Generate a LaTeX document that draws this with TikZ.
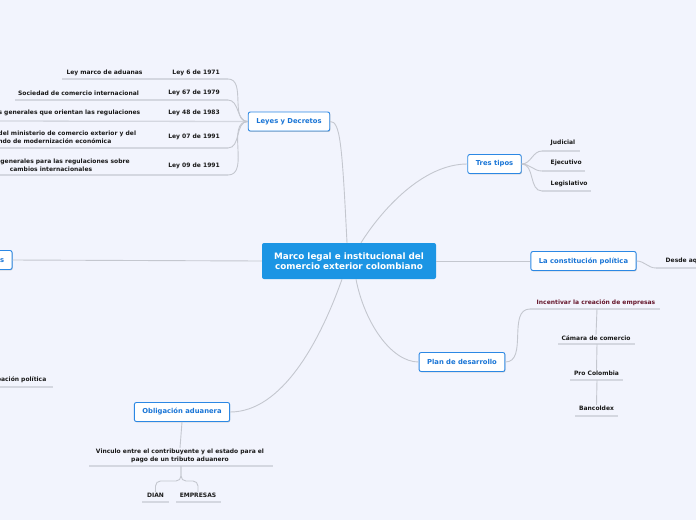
\documentclass[tikz,border=0pt]{standalone}
\usepackage{fontspec}
\setmainfont{DejaVu Sans}
\usetikzlibrary{shadows}
\definecolor{bgcol}{HTML}{F2F4FD}
\definecolor{rootblue}{HTML}{1C95E4}
\definecolor{topicblue}{HTML}{2C88E4}
\definecolor{topictext}{HTML}{1975D6}
\definecolor{linkgray}{HTML}{C4C7CF}
\definecolor{ulgray}{HTML}{D4D7E0}
\definecolor{wine}{HTML}{66172C}
\definecolor{leaftext}{HTML}{1A1A1A}
\tikzset{
  root/.style={fill=rootblue,rounded corners=2pt,text=white,align=center,
    font=\bfseries\fontsize{8.8}{10.5}\selectfont,minimum width=174pt,minimum height=36pt},
  topic/.style={draw=topicblue,fill=white,line width=0.9pt,rounded corners=2pt,text=topictext,
    font=\bfseries\fontsize{6.8}{8}\selectfont,minimum height=19pt,inner xsep=8pt,
    drop shadow={shadow xshift=0.6pt,shadow yshift=-0.9pt,fill=black!45,opacity=0.45}},
  leaf/.style={text=leaftext,font=\bfseries\fontsize{6}{7.8}\selectfont,align=center,inner sep=0.5pt},
  link/.style={draw=linkgray,line width=0.9pt},
  uline/.style={draw=ulgray,line width=1.3pt},
}
\begin{document}
\begin{tikzpicture}[x=1pt,y=-1pt]
\fill[bgcol] (0,0) rectangle (696,520);
\clip (0,0) rectangle (696,520);
% main topics
\node[root] (root) at (349,261) {Marco legal e institucional del\\comercio exterior colombiano};
\node[topic] (leyes) at (289,121.5) {Leyes y Decretos};
\node[topic] (tres) at (494.5,164) {Tres tipos};
\node[topic] (const) at (583.5,261) {La constitución política};
\node[topic] (plan) at (462,362) {Plan de desarrollo};
\node[topic] (oblig) at (182,412) {Obligación aduanera};
\node[topic,anchor=east] (instit) at (12.5,260) {Instituciones};
\draw[link] (leyes.east) .. controls +(10,0) and +(-5,-100) .. ([xshift=-2pt]root.north);
\draw[link] ([xshift=12pt]root.north) .. controls +(20,-32) and +(-45,0) .. (tres.west);
\draw[link] (root.east) -- (const.west);
\draw[link] ([xshift=7pt]root.south) .. controls +(8,42) and +(-28,0) .. (plan.west);
\draw[link] ([xshift=-7pt]root.south) .. controls +(-22,62) and +(52,0) .. (oblig.east);
\draw[link] (root.west) -- (instit.east);
% leyes y decretos
\coordinate (j71) at (228,79); \coordinate (j79) at (228,100);
\coordinate (j91a) at (228,148); \coordinate (j91b) at (228,175);
\draw[uline] (62,79) -- (j71);
\draw[uline] (15,100) -- (j79);
\draw[uline] (-5,121) -- (leyes.west);
\draw[uline] (-5,148) -- (j91a);
\draw[uline] (-5,175) -- (j91b);
\foreach \j in {j71,j79,j91a,j91b} \draw[link] (\j) to[out=0,in=180] (leyes.west);
\node[leaf,anchor=east] (l71) at (220.5,72.5) {Ley 6 de 1971};
\node[leaf,anchor=east] (l79) at (220.5,93) {Ley 67 de 1979};
\node[leaf,anchor=east] (l83) at (220.5,113) {Ley 48 de 1983};
\node[leaf,anchor=east] (l91a) at (220.5,137) {Ley 07 de 1991};
\node[leaf,anchor=east] (l91b) at (220.5,166) {Ley 09 de 1991};
\node[leaf] (g71) at (104.5,72.5) {Ley marco de aduanas};
\node[leaf] (g79) at (78.5,93) {Sociedad de comercio internacional};
\node[leaf,anchor=east] (g83) at (141,113) {Normas generales que orientan las regulaciones};
\node[leaf] (g91a) at (51.5,137) {Creación del ministerio de comercio exterior y del\\fondo de modernización económica};
\node[leaf] (g91b) at (51,165) {Normas generales para las regulaciones sobre\\cambios internacionales};
% participacion
\node[leaf,anchor=east] (part) at (47,380) {Participación política};
\draw[uline] (-5,387) -- (53,387);
% tres tipos
\coordinate (t1) at (542,151); \coordinate (t2) at (542,171); \coordinate (t3) at (542,191);
\draw[uline] (t1) -- (580,151);
\draw[uline] (t2) -- (585,171);
\draw[uline] (t3) -- (591,191);
\foreach \t in {t1,t2,t3} \draw[link] (tres.east) to[out=0,in=180] (\t);
\node[leaf,anchor=west] (jud) at (550,143) {Judicial};
\node[leaf,anchor=west] (eje) at (550,163) {Ejecutivo};
\node[leaf,anchor=west] (leg) at (550,184) {Legislativo};
% constitucion
\coordinate (cd) at (656,268);
\draw[uline] (cd) -- (700,268);
\draw[link] (const.east) to[out=0,in=180] (cd);
\node[leaf,anchor=west] (desde) at (665,261) {Desde aquí};
% plan de desarrollo
\coordinate (pi) at (530,309);
\draw[uline] (pi) -- (660,309);
\draw[link] (plan.east) to[out=0,in=180] (pi);
\node[leaf,text=wine] (incent) at (596,303) {Incentivar la creación de empresas};
\node[leaf] (camara) at (596,338) {Cámara de comercio};
\node[leaf] (procol) at (596.5,373) {Pro Colombia};
\node[leaf] (banco) at (596.5,408) {Bancoldex};
\coordinate (ui) at (597,309); \coordinate (uc) at (597,344); \coordinate (up) at (597,380);
\draw[uline] (558,344) -- (635,344);
\draw[uline] (570,380) -- (623,380);
\draw[uline] (575,416) -- (618,416);
\draw[link] (ui) -- (camara.north);
\draw[link] (uc) -- (procol.north);
\draw[link] (up) -- (banco.north);
% obligacion aduanera
\node[leaf] (vinc) at (180,455.5) {Vinculo entre el contribuyente y el estado para el\\pago de un tributo aduanero};
\draw[link] (oblig.south) -- (vinc.north);
\coordinate (uv) at (181,466);
\draw[uline] (89,466) -- (273,466);
\node[leaf] (dian) at (155.5,495) {DIAN};
\node[leaf] (empr) at (198,495) {EMPRESAS};
\draw[uline] (142,502) -- (169,502);
\draw[uline] (176,502) -- (221,502);
\draw[link,rounded corners=5pt] (uv) -- ++(0,15) -| (dian.north);
\draw[link,rounded corners=5pt] (uv) -- ++(0,15) -| (empr.north);
\end{tikzpicture}
\end{document}
